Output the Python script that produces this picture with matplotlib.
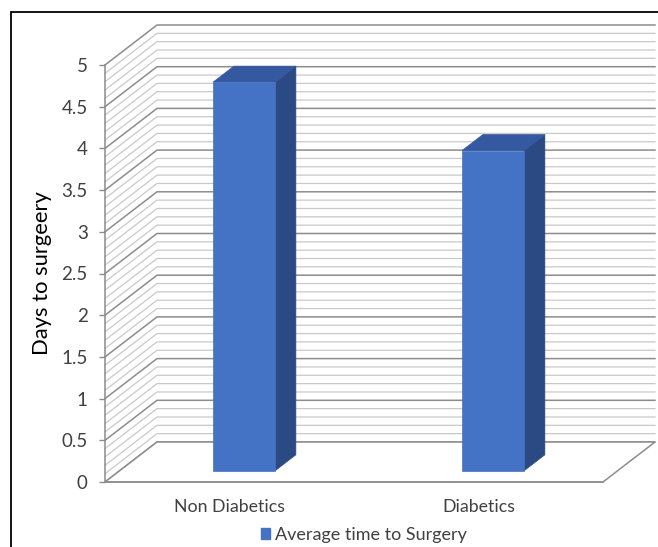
import matplotlib
matplotlib.use("Agg")
import matplotlib.pyplot as plt
from matplotlib.patches import Polygon, Rectangle, Patch
from matplotlib.lines import Line2D

categories = ["Non Diabetics", "Diabetics"]
values = [4.66, 3.84]
series_name = "Average time to Surgery"
y_ticks = [0, 0.5, 1, 1.5, 2, 2.5, 3, 3.5, 4, 4.5, 5]
y_tick_labels = ["0", "0.5", "1", "1.5", "2", "2.5", "3", "3.5", "4", "4.5", "5"]
y_label = "Days to surgeery"

FONT = ["Lato", "DejaVu Sans"]
plt.rcParams["font.family"] = FONT

W, H = 658, 547
fig = plt.figure(figsize=(W / 100, H / 100), dpi=100)

# front plane of the 3D box: x in category units, y in value units
ax = fig.add_axes([105 / W, 65 / H, 498 / W, 417 / H])
ax.set_xlim(0, 2)
ax.set_ylim(0, 5)
ax.set_facecolor("none")

# oblique depth offset of the back wall (data units)
DX = 52 / 249
DY = 40 / 83.4


def P(x, v, d):
    return (x + d * DX, v + d * DY)


major_c = "#8c8c8c"
minor_c = "#c9c9c9"

# wall and side gridlines every 0.1, darker every 0.5
for i in range(0, 51):
    v = i / 10
    major = i % 5 == 0
    col = major_c if major else minor_c
    lw = 1.1 if major else 0.9
    xs, ys = zip(P(0, v, 0), P(0, v, 1), P(2, v, 1))
    ax.add_line(Line2D(xs, ys, color=col, lw=lw, clip_on=False, zorder=1))

# floor
floor = Polygon([P(0, 0, 0), P(2, 0, 0), P(2, 0, 1), P(0, 0, 1)], closed=True,
                facecolor="white", edgecolor=major_c, lw=1.1, clip_on=False, zorder=2)
ax.add_patch(floor)

# columns
bar_w = 0.249
d0, d1 = 0.28, 0.68
front_c = "#4472c4"
top_c = "#3459a0"
side_c = "#2b4a84"
for i, v in enumerate(values):
    c = i + 0.5
    xl, xr = c - bar_w / 2, c + bar_w / 2
    front = [P(xl, 0, d0), P(xr, 0, d0), P(xr, v, d0), P(xl, v, d0)]
    side = [P(xr, 0, d0), P(xr, 0, d1), P(xr, v, d1), P(xr, v, d0)]
    top = [P(xl, v, d0), P(xr, v, d0), P(xr, v, d1), P(xl, v, d1)]
    for pts, col in ((side, side_c), (top, top_c), (front, front_c)):
        ax.add_patch(Polygon(pts, closed=True, facecolor=col, edgecolor=col,
                             lw=0.5, clip_on=False, zorder=5))

# axes styling
for s in ("top", "right"):
    ax.spines[s].set_visible(False)
for s in ("left", "bottom"):
    ax.spines[s].set_color(major_c)
    ax.spines[s].set_linewidth(1.1)
    ax.spines[s].set_zorder(3)

ax.set_yticks(y_ticks)
ax.set_yticklabels(y_tick_labels)
ax.tick_params(axis="y", direction="out", length=4.5, width=1.0, color=major_c,
               labelsize=13.5, labelcolor="#404040", pad=8)
ax.set_xticks([0.5, 1.5])
ax.set_xticklabels(categories)
ax.tick_params(axis="x", length=0, labelsize=12.8, labelcolor="#404040", pad=12)
ax.set_ylabel(y_label, fontsize=15.8, color="black", labelpad=7)

# legend
handle = Patch(facecolor=front_c, edgecolor=front_c)
fig.legend([handle], [series_name], loc="center", bbox_to_anchor=(364 / W, 1 - 535 / H),
           frameon=False, fontsize=13, handlelength=0.5, handleheight=0.5,
           handletextpad=0.3, labelcolor="#404040", borderpad=0)

# outer frame
fig.patches.append(Rectangle((11 / W, -0.1), 2, 1 - 12 / H + 0.1, transform=fig.transFigure,
                             fill=False, edgecolor="black", lw=1.3))

fig.savefig("out.png", dpi=100, facecolor="white")
